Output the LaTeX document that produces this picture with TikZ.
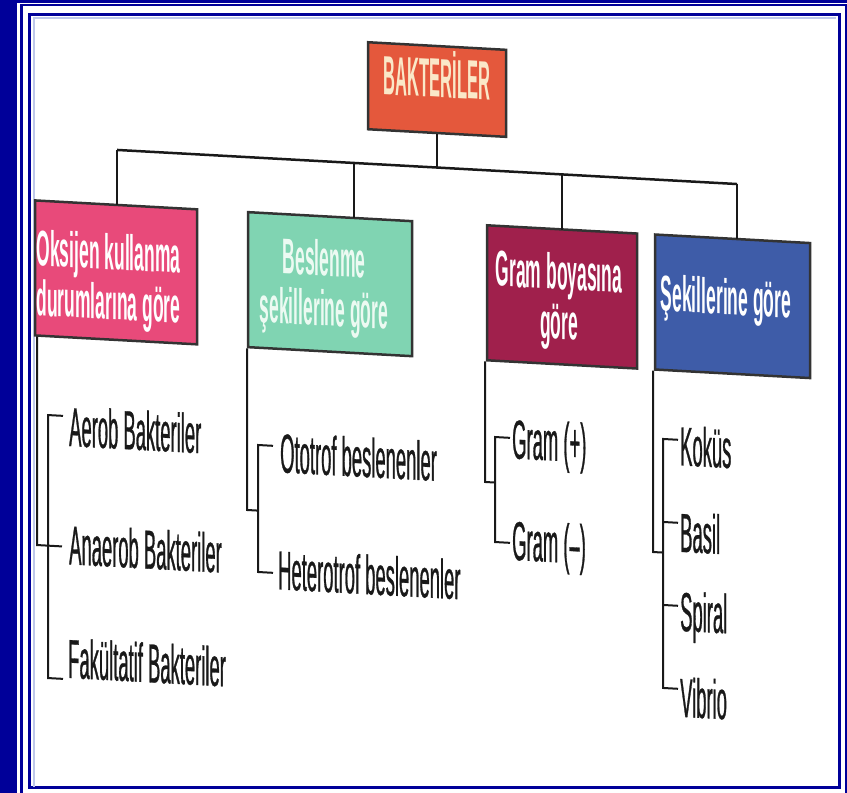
\documentclass[tikz,border=0pt]{standalone}
\usepackage{fontspec}
\newfontfamily\cf[FakeStretch=0.335, FakeBold=0.5]{Liberation Sans}
\newfontfamily\cfb[FakeStretch=0.35]{Liberation Sans Bold}
\newfontfamily\cfr[FakeStretch=0.30]{Liberation Sans Bold}
\definecolor{frameblue}{RGB}{0,0,153}
\definecolor{framelight}{RGB}{190,200,235}
\definecolor{cOrange}{RGB}{228,88,60}
\definecolor{cPink}{RGB}{232,74,122}
\definecolor{cMint}{RGB}{128,212,178}
\definecolor{cMaroon}{RGB}{160,32,76}
\definecolor{cBlue}{RGB}{62,92,168}
\definecolor{cCream}{RGB}{250,232,200}
\definecolor{cMintText}{RGB}{236,250,242}
\begin{document}
\begin{tikzpicture}[x=1pt,y=-1pt,
  conn/.style={draw=black!90, line width=2pt},
  catbox/.style={draw=black!80, line width=2.5pt, inner sep=0pt, minimum height=135pt},
  boxlabel/.style={inner sep=0pt, align=center, font=\cfb\fontsize{50pt}{50pt}\selectfont, text=white},
  item/.style={inner sep=0pt, anchor=west, text height=39pt, text depth=0pt, font=\cf\fontsize{55pt}{60pt}\selectfont, text=black!90}]
\useasboundingbox (0,0) rectangle (847,793);
\fill[white] (0,0) rectangle (847,793);
% frame
\fill[frameblue] (0,0) rectangle (17,793);
\fill[frameblue] (0,0) rectangle (847,2.5);
\draw[frameblue, line width=2.5pt] (21.5,800) -- (21.5,5) -- (846,5) -- (846,800);
\draw[frameblue, line width=3pt] (29.5,14) rectangle (839,787.5);
\draw[framelight, line width=1.5pt] (34,787) -- (34,18) -- (836,18);
\begin{scope}[yslant=-0.055, transform shape]
% boxes
\node[catbox, fill=cOrange, minimum width=138pt, minimum height=87pt] (root) at (437,65.5) {};
\node[inner sep=0pt, text height=39pt, text depth=0pt, font=\cfr\fontsize{55pt}{60pt}\selectfont, text=cCream] (roott) at (437,53.8) {BAKTERİLER};
\node[catbox, fill=cPink, minimum width=162pt] (b1) at (116,266) {};
\node[catbox, fill=cMint, minimum width=164pt] (b2) at (330,266) {};
\node[catbox, fill=cMaroon, minimum width=150pt] (b3) at (562,266) {};
\node[catbox, fill=cBlue, minimum width=155pt] (b4) at (732.5,266) {};
\node[boxlabel] (b1t) at (108.5,275.6) {Oksijen kullanma\\durumlarına göre};
\node[boxlabel, text=cMintText] (b2t) at (324,270.2) {Beslenme\\şekillerine göre};
\node[boxlabel] (b3t) at (559,270.8) {Gram boyasına\\göre};
\node[boxlabel] (b4t) at (726,261.6) {Şekillerine göre};
% top tree
\coordinate (t0) at (437,143.5);
\coordinate (t1) at (117,143.5);
\coordinate (t2) at (354,143.5);
\coordinate (t3) at (562,143.5);
\coordinate (t4) at (737,143.5);
\draw[conn, line width=2.5pt] (t1) -- (t4);
\draw[conn] (root.south) -- (t0);
\draw[conn, shorten >=-1.5pt] (t1) -- (t1 |- b1.north);
\draw[conn, shorten >=-1.5pt] (t2) -- (t2 |- b2.north);
\draw[conn, shorten >=-1.5pt] (t3) -- (t3 |- b3.north);
\draw[conn, shorten >=-1.5pt] (t4) -- (t4 |- b4.north);
% column 1
\coordinate (k1) at (37,543);
\coordinate (k1e) at (62,543);
\coordinate (k1t) at (48,412.4);
\coordinate (k1tr) at (63,412.4);
\coordinate (k1b) at (48,675.4);
\coordinate (k1br) at (63,675.4);
\draw[conn] (k1 |- b1.south west) -- (k1) -- (k1e);
\draw[conn] (k1tr) -- (k1t) -- (k1b) -- (k1br);
\node[item] (i11) at (69,422.7) {Aerob Bakteriler};
\node[item] (i12) at (69,541) {Anaerob Bakteriler};
\node[item] (i13) at (68,654.6) {Fakültatif Bakteriler};
% column 2
\coordinate (k2) at (247,496.4);
\coordinate (k2j) at (258,496.4);
\coordinate (k2t) at (258,430.8);
\coordinate (k2tr) at (273,430.8);
\coordinate (k2b) at (258,557.8);
\coordinate (k2br) at (273,557.8);
\draw[conn] (k2 |- b2.south west) -- (k2) -- (k2j);
\draw[conn] (k2tr) -- (k2t) -- (k2b) -- (k2br);
\node[item] (i21) at (280,437.4) {Ototrof beslenenler};
\node[item] (i22) at (278,554.5) {Heterotrof beslenenler};
% column 3
\coordinate (k3) at (485,455.3);
\coordinate (k3j) at (495,455.3);
\coordinate (k3t) at (495,409.8);
\coordinate (k3tr) at (510,409.8);
\coordinate (k3b) at (495,514.8);
\coordinate (k3br) at (510,514.8);
\draw[conn] (k3 |- b3.south west) -- (k3) -- (k3j);
\draw[conn] (k3tr) -- (k3t) -- (k3b) -- (k3br);
\node[item] (i31) at (512,410.7) {Gram (+)};
\node[item] (i32) at (512,512.2) {Gram (–)};
% column 4
\coordinate (k4) at (653,516.1);
\coordinate (k4j) at (663,516.1);
\coordinate (k4t) at (663,402.5);
\coordinate (k4tr) at (678,402.5);
\coordinate (k4b) at (663,651.5);
\coordinate (k4br) at (678,651.5);
\coordinate (k4m1) at (663,485.5);
\coordinate (k4m1r) at (678,485.5);
\coordinate (k4m2) at (663,568.5);
\coordinate (k4m2r) at (678,568.5);
\draw[conn] (k4 |- b4.south west) -- (k4) -- (k4j);
\draw[conn] (k4tr) -- (k4t) -- (k4b) -- (k4br);
\draw[conn] (k4m1) -- (k4m1r);
\draw[conn] (k4m2) -- (k4m2r);
\node[item] (i41) at (680,408.4) {Koküs};
\node[item] (i42) at (680,494.9) {Basil};
\node[item] (i43) at (680,573.9) {Spiral};
\node[item] (i44) at (680,659.9) {Vibrio};
\end{scope}
\end{tikzpicture}
\end{document}
